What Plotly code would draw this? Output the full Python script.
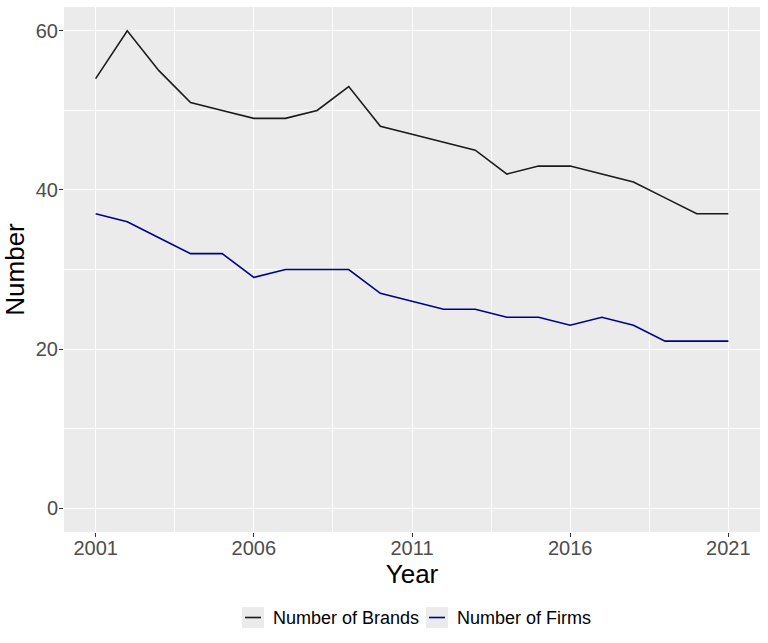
import plotly.graph_objects as go

years = list(range(2001, 2022))
brands = [54, 60, 55, 51, 50, 49, 49, 50, 53, 48, 47, 46, 45, 42, 43, 43, 42, 41, 39, 37, 37]
firms = [37, 36, 34, 32, 32, 29, 30, 30, 30, 27, 26, 25, 25, 24, 24, 23, 24, 23, 21, 21, 21]
x_ticks = [2001, 2006, 2011, 2016, 2021]
y_ticks = [0, 20, 40, 60]
series_names = ["Number of Brands", "Number of Firms"]
series_colors = ["#1a1a1a", "#00008B"]

FONT = "Liberation Sans, Arial, sans-serif"

fig = go.Figure()
for name, vals, col in zip(series_names, [brands, firms], series_colors):
    fig.add_trace(go.Scatter(x=years, y=vals, mode="lines", name=name,
                             line=dict(color=col, width=1.6), showlegend=False))

# Manual ggplot-style legend at the bottom (pixel layout converted to paper coords)
L, R, T, B = 64, 760, 7, 532
W, H = R - L, B - T
def px(xp):
    return (xp - L) / W
def py(yp):
    return (B - yp) / H

legend_items = [(242, series_names[0], series_colors[0]), (426, series_names[1], series_colors[1])]
shapes = []
annotations = []
for x0, name, col in legend_items:
    shapes.append(dict(type="rect", xref="paper", yref="paper",
                       x0=px(x0), x1=px(x0 + 22), y0=py(628), y1=py(607),
                       fillcolor="#EBEBEB", line=dict(width=0), layer="below"))
    shapes.append(dict(type="line", xref="paper", yref="paper",
                       x0=px(x0 + 3), x1=px(x0 + 19), y0=py(617.5), y1=py(617.5),
                       line=dict(color=col, width=1.6)))
    annotations.append(dict(text=name, xref="paper", yref="paper", x=px(x0 + 29), y=py(618),
                            xanchor="left", yanchor="middle", showarrow=False,
                            font=dict(size=18, color="black", family=FONT)))

fig.update_layout(
    width=768, height=643,
    margin=dict(l=L, r=768 - R, t=T, b=643 - B),
    paper_bgcolor="white",
    plot_bgcolor="#EBEBEB",
    font=dict(family=FONT, color="black"),
    showlegend=False,
    shapes=shapes,
    annotations=annotations,
    xaxis=dict(
        range=[2000, 2022], tickvals=x_ticks, ticktext=[str(t) for t in x_ticks],
        showgrid=True, gridcolor="white", gridwidth=1.4, zeroline=False,
        ticks="outside", ticklen=4, tickcolor="#333333", tickwidth=1,
        ticklabelstandoff=-6,
        tickfont=dict(size=20, color="#4D4D4D", family=FONT),
        title=dict(text="Year", font=dict(size=26, color="black", family=FONT), standoff=2),
        minor=dict(tick0=2003.5, dtick=5, showgrid=True, gridcolor="white", gridwidth=0.6, ticks=""),
        showline=False, automargin=False,
    ),
    yaxis=dict(
        range=[-3, 63], tickvals=y_ticks, ticktext=[str(t) for t in y_ticks],
        showgrid=True, gridcolor="white", gridwidth=1.4, zeroline=False,
        ticks="outside", ticklen=4, tickcolor="#333333", tickwidth=1,
        ticklabelstandoff=-3,
        tickfont=dict(size=20, color="#4D4D4D", family=FONT),
        title=dict(text="Number", font=dict(size=26, color="black", family=FONT), standoff=7),
        minor=dict(tick0=10, dtick=20, showgrid=True, gridcolor="white", gridwidth=0.6, ticks=""),
        showline=False, automargin=False,
    ),
)

fig.write_html("out.html", config={"displayModeBar": False},
               post_script="document.body.style.margin='0';")
